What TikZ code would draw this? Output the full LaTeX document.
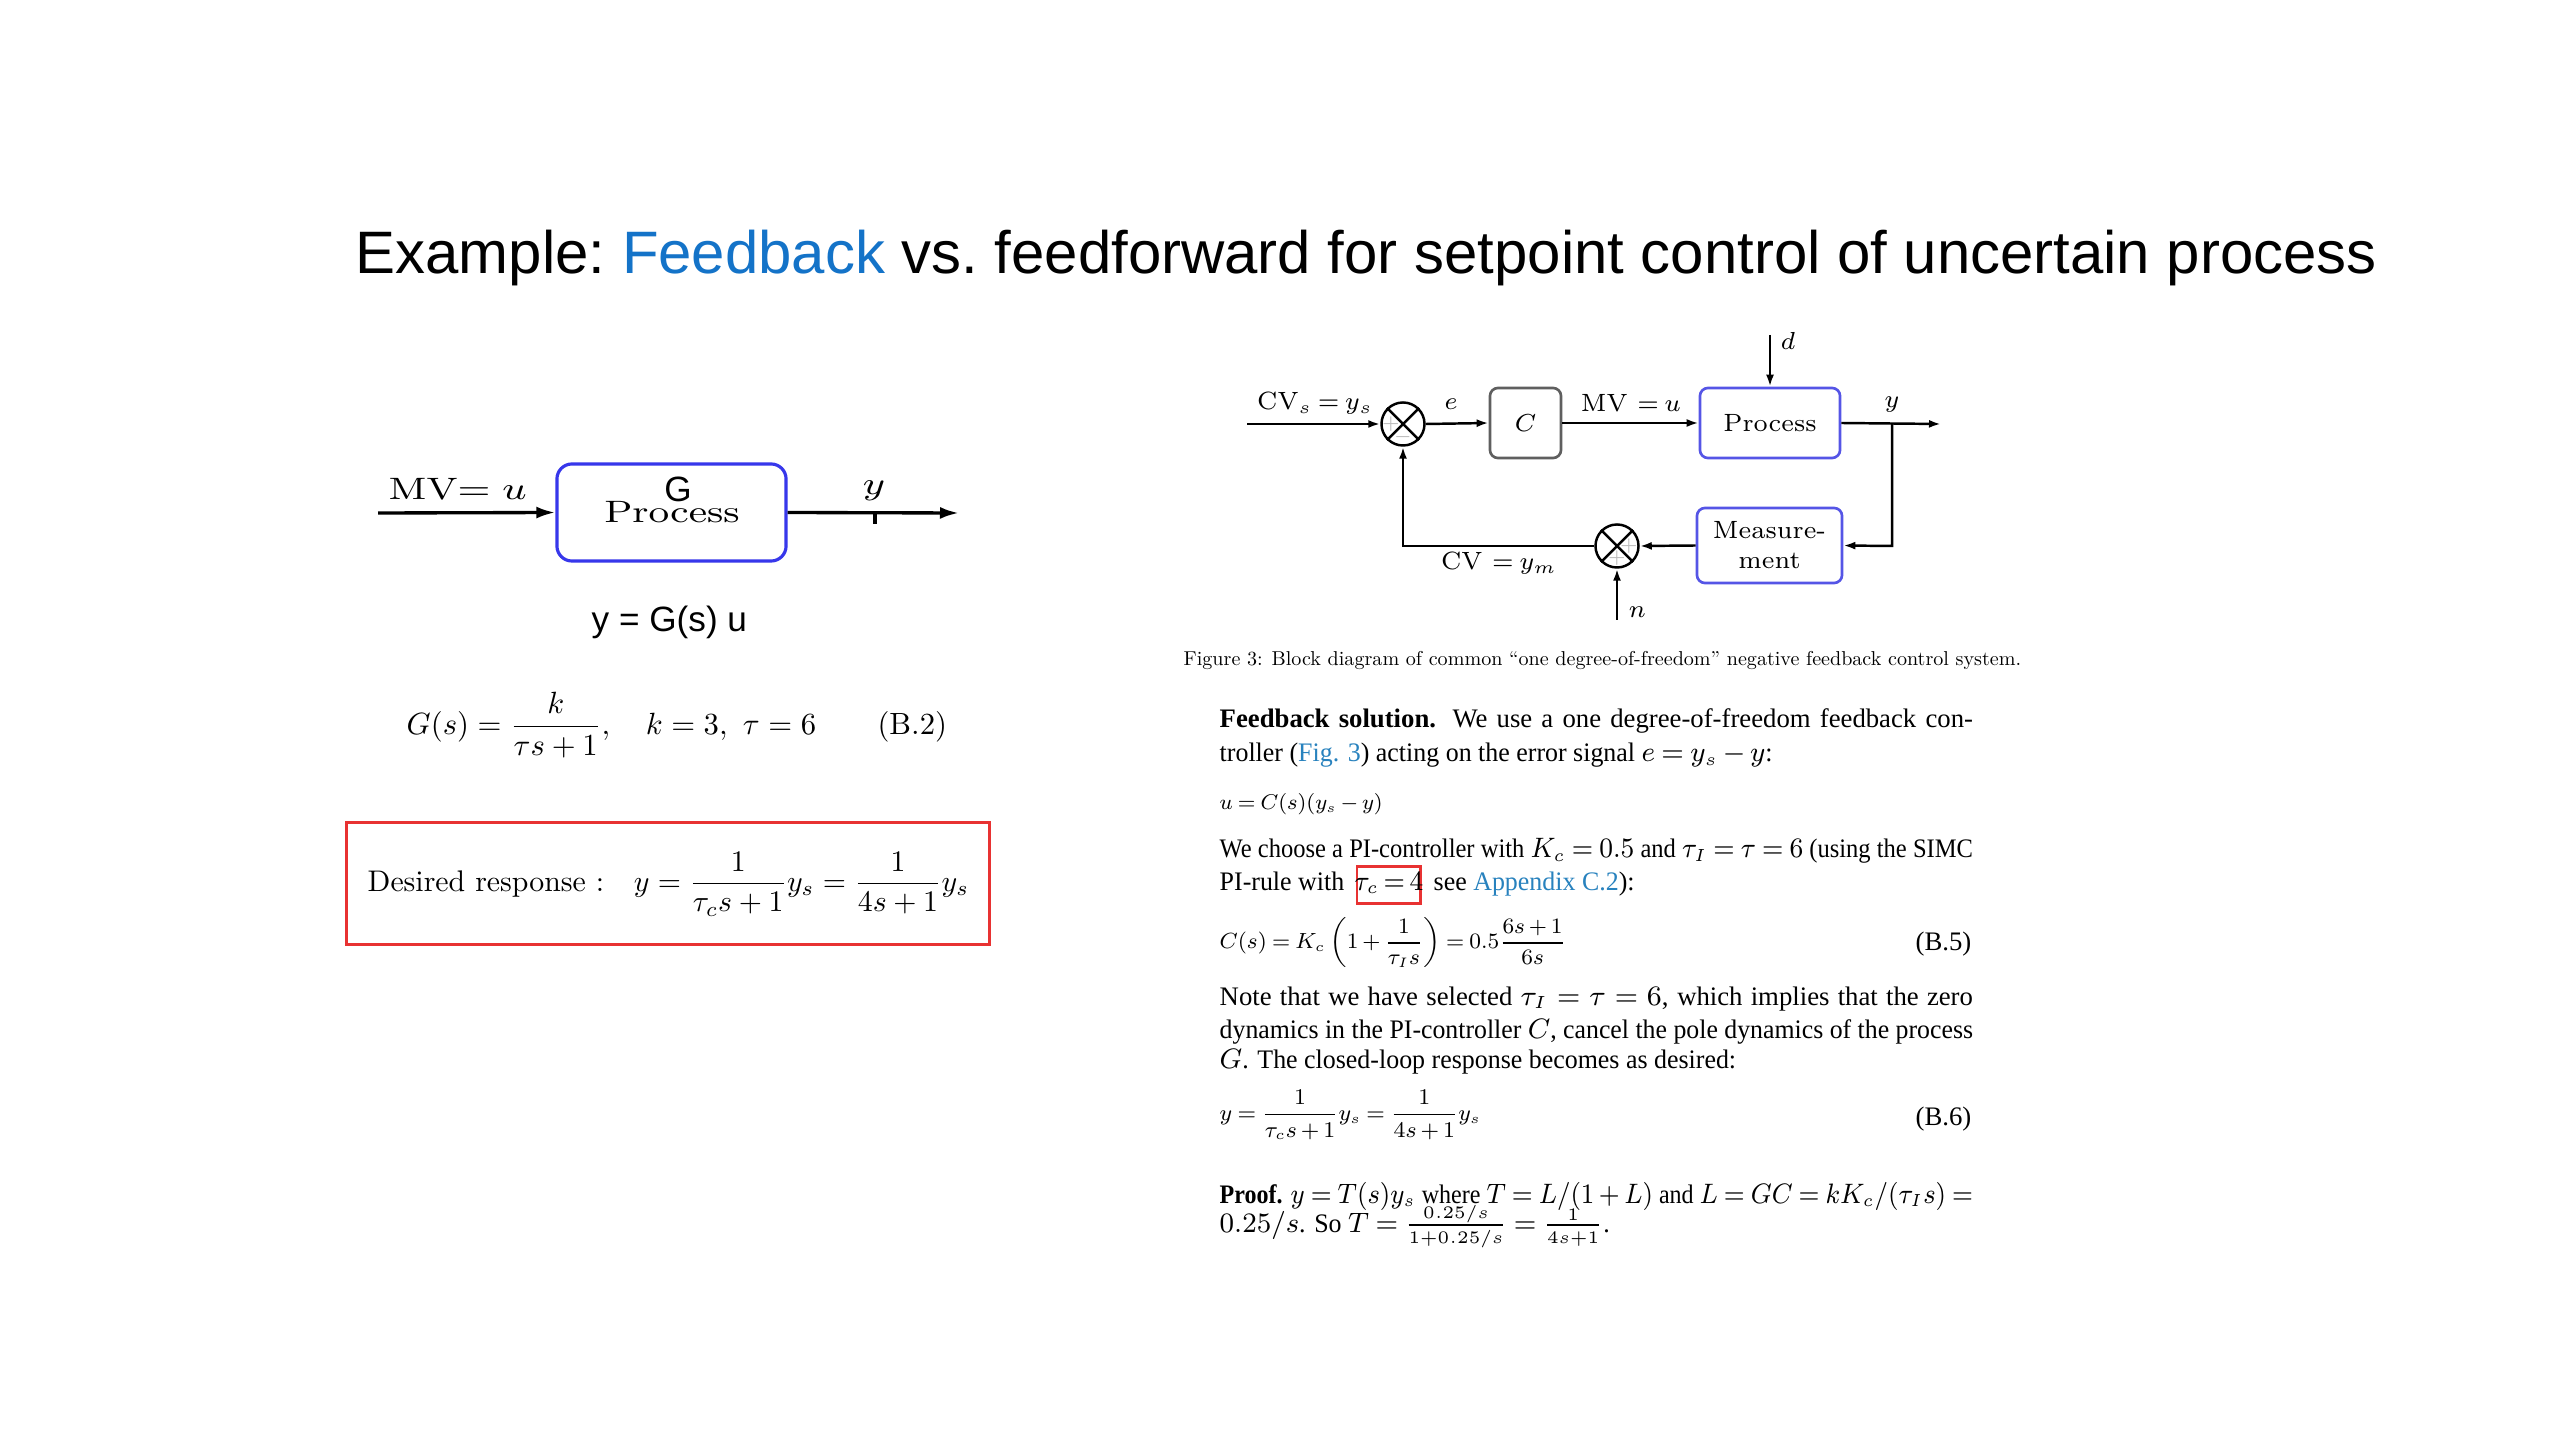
\documentclass[tikz,border=0pt]{standalone}
\usepackage{fontspec}
\usepackage{amsmath}
\usetikzlibrary{arrows.meta}
\newfontfamily\arial{Liberation Sans}
\newfontfamily\tnr{Liberation Serif}
\definecolor{fbblue}{RGB}{20,115,200}
\definecolor{lblue}{RGB}{55,55,235}
\definecolor{rblue}{RGB}{85,85,230}
\definecolor{cgray}{RGB}{95,95,95}
\definecolor{redc}{RGB}{232,50,50}
\definecolor{lnk}{RGB}{40,130,190}
\newsavebox\jbox
\newlength\jw
\newlength\jh
\setlength\jw{214.2pt}
\newcommand\jline[1]{\sbox\jbox{#1}\setlength\jh{\ht\jbox}\ifdim\wd\jbox>\jw\resizebox{\jw}{\jh}{\usebox\jbox}\else\makebox[\jw][s]{#1}\fi}
\newcommand\nl[1]{\scalebox{0.97}[1]{#1}}
\newcommand\tightmath{\thickmuskip=4mu plus 3mu minus 1mu\relax\medmuskip=3mu plus 2mu minus 1mu\relax}
\newcommand\diagmath{\thickmuskip=3.5mu plus 2mu minus 1mu\relax}
\begin{document}
\begin{tikzpicture}[x=0.01cm,y=-0.01cm,
  lbox/.style={draw=lblue, line width=0.9pt, rounded corners=0.15cm, minimum width=2.29cm, minimum height=0.97cm, inner sep=0},
  ar/.style={-{Latex[length=0.19cm,width=0.12cm]}, line width=0.95pt},
  rar/.style={-{Latex[length=0.12cm,width=0.08cm]}, line width=0.7pt},
  rln/.style={line width=0.7pt},
  blk/.style={draw=rblue, line width=0.75pt, rounded corners=0.08cm, inner sep=0, font=\fontsize{7.1}{8.5}\selectfont},
  sumj/.style={circle, draw, line width=0.7pt, minimum size=0.43cm, inner sep=0},
  dg/.style={font=\fontsize{7.1}{8.6}\selectfont\diagmath, inner sep=0},
  lfont/.style={font=\fontsize{8.8}{10}\selectfont, inner sep=0},
  sign/.style={font=\fontsize{4}{4}\selectfont, text=gray!55, inner sep=0},
  tb/.style={font=\tnr\fontsize{7.6}{9}\selectfont\tightmath, inner sep=0, anchor=base west}]
\fill[white] (0,0) rectangle (2560,1440);
\useasboundingbox (0,0) rectangle (2560,1440);

% title
\node[anchor=base west, inner sep=0, font=\arial\fontsize{16.6}{20}\selectfont\frenchspacing] (title) at (355,274)
  {\resizebox{20.2cm}{!}{Example: \textcolor{fbblue}{Feedback} vs. feedforward for setpoint control of uncertain process}};

% left diagram
\node[lbox] (G) at (671.5,512.5) {};
\node[anchor=base, inner sep=0, font=\arial\fontsize{10}{11}\selectfont] (Glbl) at (678,502) {G};
\node[anchor=base, lfont] (Gproc) at (672,523) {\scalebox{1.3}[1]{Process}};
\coordinate (lin) at (378,513);
\coordinate (lout) at (959,513);
\coordinate (tick) at (875,513);
\draw[ar] (lin) -- (G.west);
\draw[ar] (G.east) -- (lout);
\draw[line width=0.95pt] (tick) -- ++(0,11);
\node[anchor=base west, lfont] (mv) at (388,500) {\scalebox{1.3}[1]{MV$=u$}};
\node[anchor=base, lfont] (ylab) at (874,495) {\scalebox{1.3}[1]{$y$}};
\node[anchor=base west, inner sep=0, font=\arial\fontsize{10}{12}\selectfont] (yGu) at (591,632) {y = G(s) u};

\node[anchor=west, inner sep=0] (eqB2) at (406,725)
  {\resizebox{5.4cm}{!}{$\displaystyle G(s)=\frac{k}{\tau s+1},\quad k=3,\ \tau=6\qquad\text{(B.2)}$}};

\node[draw=redc, line width=0.85pt, minimum width=6.42cm, minimum height=1.21cm, inner sep=0] (des) at (668,883.5) {};
\node[anchor=west, inner sep=0] (destext) at (367,884)
  {\resizebox{6.01cm}{!}{Desired response :\quad $\displaystyle y=\frac{1}{\tau_c s+1}y_s=\frac{1}{4s+1}y_s$}};

% right diagram
\node[sumj] (s1) at (1403,424) {};
\draw[rln] (s1.45) -- (s1.225) (s1.135) -- (s1.315);
\node[blk, draw=cgray, minimum width=0.71cm, minimum height=0.70cm] (C) at (1525.5,423) {$C$};
\node[blk, minimum width=1.40cm, minimum height=0.70cm] (P) at (1770,423) {Process};
\node[blk, minimum width=1.45cm, minimum height=0.75cm, align=center] (M) at (1769.5,545.5) {Measure-\\ment};
\node[sumj] (s2) at (1617,546) {};
\draw[rln] (s2.45) -- (s2.225) (s2.135) -- (s2.315);
\coordinate (rin) at (1247,424);
\coordinate (rout) at (1941,424);
\coordinate (br) at (1892,424);
\coordinate (brd) at (1892,546);
\coordinate (corner) at (1403,546);
\coordinate (dtop) at (1770,335);
\coordinate (nbot) at (1617,620);
\draw[rar] (rin) -- (s1.west);
\draw[rar] (s1.east) -- (C.west);
\draw[rar] (C.east) -- (P.west);
\draw[rar] (P.east) -- (rout);
\draw[rar] (br) -- (brd) -- (M.east);
\draw[rar] (M.west) -- (s2.east);
\draw[rar] (s2.west) -- (corner) -- (s1.south);
\draw[rar] (dtop) -- (P.north);
\draw[rar] (nbot) -- (s2.south);
\node[sign] (p1) at (1391,424) {$+$};
\node[sign] (m1) at (1403,437) {$-$};
\node[sign] (p2) at (1629,546) {$+$};
\node[sign] (p3) at (1617,558) {$+$};
\node[dg, anchor=base] (cvs) at (1315,410) {CV$_s=y_s$};
\node[dg, anchor=base] (elab) at (1451,410) {$e$};
\node[dg, anchor=base] (mvr) at (1631,412) {MV $=u$};
\node[dg, anchor=base] (yr) at (1892,408) {$y$};
\node[dg, anchor=base west] (dl) at (1780,350) {$d$};
\node[dg, anchor=base] (cvm) at (1499,570) {CV $=y_m$};
\node[dg, anchor=base west] (nl) at (1628,618) {$n$};

\node[anchor=base west, inner sep=0] (cap) at (1183,666)
  {\resizebox{8.37cm}{!}{Figure 3: Block diagram of common “one degree-of-freedom” negative feedback control system.}};

% text block
\node[tb] (t1) at (1219,728) {\jline{\textbf{Feedback solution.} We use a one degree-of-freedom feedback con-}};
\node[tb] (t2) at (1219,762) {\nl{troller (\textcolor{lnk}{Fig. 3}) acting on the error signal $e = y_s - y$:}};
\node[tb] (t3) at (1219,810) {\resizebox{1.63cm}{!}{$u = C(s)(y_s - y)$}};
\node[tb] (t4) at (1219,858) {\jline{We choose a PI-controller with $K_c = 0.5$ and $\tau_I = \tau = 6$ (using the SIMC}};
\node[tb] (t5a) at (1219,890) {\nl{PI-rule with}};
\node[draw=redc, line width=0.85pt, minimum width=0.63cm, minimum height=0.36cm, inner sep=0] (tcbox) at (1388.5,885) {};
\node[tb, anchor=base] (t5b) at (1389,890) {\scalebox{0.92}[1]{$\tau_c\,{=}\,4$}};
\node[tb] (t5c) at (1433,890) {\nl{see \textcolor{lnk}{Appendix C.2}):}};
\node[tb, anchor=west] (e5) at (1219,943)
  {\resizebox{3.46cm}{!}{$\displaystyle C(s) = K_c\left(1+\frac{1}{\tau_I s}\right) = 0.5\frac{6s+1}{6s}$}};
\node[tb, anchor=base east] (b5) at (1972,950) {(B.5)};
\node[tb] (t7) at (1219,1005) {\jline{Note that we have selected $\tau_I = \tau = 6$, which implies that the zero}};
\node[tb] (t8) at (1219,1038) {\jline{dynamics in the PI-controller $C$, cancel the pole dynamics of the process}};
\node[tb] (t9) at (1219,1068) {\nl{$G$. The closed-loop response becomes as desired:}};
\node[tb, anchor=west] (e6) at (1219,1115)
  {\resizebox{2.61cm}{!}{$\displaystyle y = \frac{1}{\tau_c s+1}y_s = \frac{1}{4s+1}y_s$}};
\node[tb, anchor=base east] (b6) at (1972,1125) {(B.6)};
\node[tb] (t11) at (1219,1203) {\jline{\textbf{Proof.} $y = T(s)y_s$ where $T = L/(1 + L)$ and $L = GC = kK_c/(\tau_I s) =$}};
\node[tb] (t12) at (1219,1232) {\nl{$0.25/s$. So $T = \frac{\scriptscriptstyle 0.25/s}{\scriptscriptstyle 1+0.25/s} = \frac{\scriptscriptstyle 1}{\scriptscriptstyle 4s+1}$.}};
\end{tikzpicture}
\end{document}
